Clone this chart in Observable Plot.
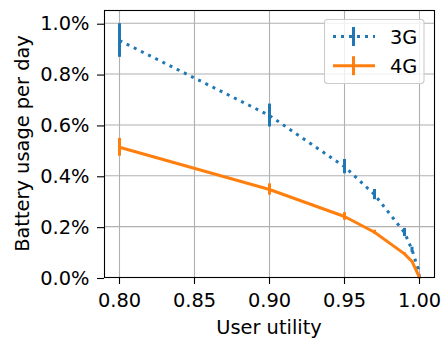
<!DOCTYPE html>
<html>
<head>
<meta charset="utf-8">
<script src="https://cdn.jsdelivr.net/npm/d3@7"></script>
<script src="https://cdn.jsdelivr.net/npm/@observablehq/plot@0.6"></script>
<style>
  html, body { margin: 0; padding: 0; background: white; }
  #chart { width: 442px; height: 341px; }
  #chart svg text { font-family: "DejaVu Sans", sans-serif; font-size: 19.4px; }
</style>
</head>
<body>
<div id="chart"></div>
<script>
const utility3G = [0.8, 0.9, 0.95, 0.97, 0.99, 0.995, 0.999, 1.0];
const usage3G   = [0.932, 0.637, 0.436, 0.326, 0.177, 0.109, 0.035, 0.0];
const err3G     = [0.066, 0.045, 0.028, 0.020, 0.016, 0.010, 0.004, 0.0];

const utility4G = [0.8, 0.9, 0.95, 0.97, 0.99, 0.995, 1.0];
const usage4G   = [0.512, 0.346, 0.240, 0.178, 0.093, 0.063, 0.0];
const err4G     = [0.035, 0.022, 0.015, 0.008, 0.004, 0.003, 0.0];

const xTicks = [0.80, 0.85, 0.90, 0.95, 1.00];
const yTicks = [0.0, 0.2, 0.4, 0.6, 0.8, 1.0];
const seriesNames = ["3G", "4G"];
const seriesColors = ["#1f77b4", "#ff7f0e"];
const xLabel = "User utility";
const yLabel = "Battery usage per day";

const d3G = utility3G.map((u, i) => ({u, v: usage3G[i], e: err3G[i]}));
const d4G = utility4G.map((u, i) => ({u, v: usage4G[i], e: err4G[i]}));

const font = "DejaVu Sans, sans-serif";
const fs = 19.4;

const chart = Plot.plot({
  width: 442,
  height: 341,
  marginLeft: 104,
  marginRight: 8,
  marginTop: 10,
  marginBottom: 64,
  style: {fontFamily: font, fontSize: fs + "px", color: "black", background: "white"},
  x: {domain: [0.79, 1.01]},
  y: {domain: [0, 1.05]},
  marks: [
    Plot.gridX(xTicks, {stroke: "#b0b0b0", strokeOpacity: 1, strokeWidth: 1.1}),
    Plot.gridY(yTicks, {stroke: "#b0b0b0", strokeOpacity: 1, strokeWidth: 1.1}),
    Plot.line(d3G, {x: "u", y: "v", stroke: seriesColors[0], strokeWidth: 3, strokeDasharray: "3,5", strokeLinecap: "butt"}),
    Plot.ruleX(d3G, {x: "u", y1: d => d.v - d.e, y2: d => d.v + d.e, stroke: seriesColors[0], strokeWidth: 3}),
    Plot.line(d4G, {x: "u", y: "v", stroke: seriesColors[1], strokeWidth: 3, strokeLinejoin: "round"}),
    Plot.ruleX(d4G, {x: "u", y1: d => d.v - d.e, y2: d => d.v + d.e, stroke: seriesColors[1], strokeWidth: 3}),
    Plot.axisX(xTicks, {tickSize: 7, tickPadding: 9, tickFormat: d3.format(".2f"), label: null, fontSize: fs, strokeWidth: 1.1}),
    Plot.axisY(yTicks, {tickSize: 7, tickPadding: 8, tickFormat: d => d.toFixed(1) + "%", label: null, fontSize: fs, strokeWidth: 1.1, dy: 1}),
    Plot.frame({stroke: "black", strokeWidth: 1.1})
  ]
});

document.getElementById("chart").appendChild(chart);

const svg = d3.select(chart);
// axis labels
svg.append("text")
  .attr("x", (104 + 434) / 2).attr("y", 334)
  .attr("text-anchor", "middle")
  .attr("font-family", font).attr("font-size", fs).attr("fill", "black")
  .text(xLabel);
svg.append("text")
  .attr("transform", `translate(28.5, ${(10 + 277) / 2}) rotate(-90)`)
  .attr("text-anchor", "middle")
  .attr("font-family", font).attr("font-size", fs).attr("fill", "black")
  .text(yLabel);

// legend
const lg = svg.append("g");
lg.append("rect")
  .attr("x", 324.5).attr("y", 19.5).attr("width", 99.5).attr("height", 64)
  .attr("rx", 3).attr("fill", "white").attr("fill-opacity", 0.8)
  .attr("stroke", "#cccccc").attr("stroke-width", 1.1);
const rows = [36.5, 65.7];
seriesNames.forEach((name, i) => {
  const y = rows[i];
  lg.append("line")
    .attr("x1", 333).attr("x2", 375).attr("y1", y).attr("y2", y)
    .attr("stroke", seriesColors[i]).attr("stroke-width", 3)
    .attr("stroke-dasharray", i === 0 ? "3,5" : null);
  lg.append("line")
    .attr("x1", 353.5).attr("x2", 353.5).attr("y1", y - 9.5).attr("y2", y + 9.5)
    .attr("stroke", seriesColors[i]).attr("stroke-width", 3);
  lg.append("text")
    .attr("x", 390).attr("y", y + 7.5)
    .attr("text-anchor", "start")
    .attr("font-family", font).attr("font-size", fs).attr("fill", "black")
    .text(name);
});
</script>
</body>
</html>
